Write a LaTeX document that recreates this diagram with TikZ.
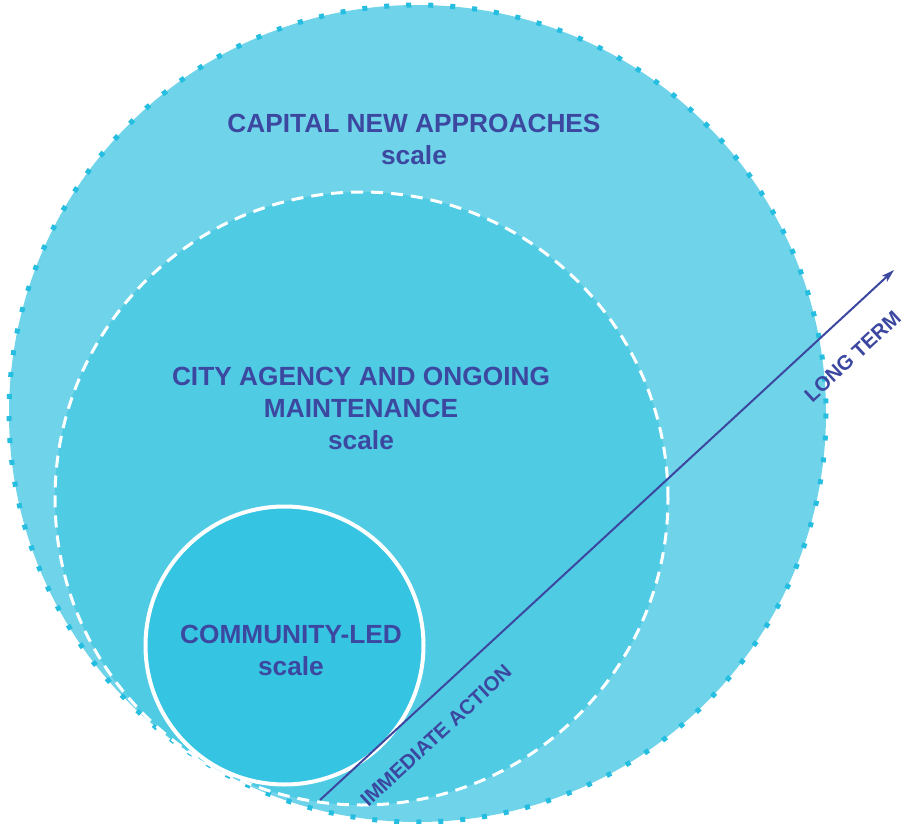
\documentclass[tikz,border=0pt]{standalone}
\usepackage{fontspec}
\setmainfont{Liberation Sans}
\usepackage{tikz}
\usetikzlibrary{arrows.meta}

\definecolor{OuterFill}{RGB}{111,212,234}
\definecolor{OuterDots}{RGB}{38,190,224}
\definecolor{MiddleFill}{RGB}{80,203,228}
\definecolor{InnerFill}{RGB}{54,196,227}
\definecolor{Ink}{RGB}{60,72,160}

\tikzset{
	scale label/.style={text=Ink, font=\bfseries\fontsize{19.7}{24}\selectfont, align=center},
	time label/.style={text=Ink, font=\bfseries\fontsize{15.3}{17}\selectfont},
}

\begin{document}
\begin{tikzpicture}[x=0.75pt, y=-0.75pt]
	\useasboundingbox (0,0) rectangle (904,824);

	\node[circle, minimum size=612.75pt, inner sep=0pt, fill=OuterFill] (capital) at (417.5,413.5) {};
	\draw[OuterDots, line width=3.75pt, dash pattern=on 3.75pt off 12.75pt] (capital.center) circle[radius=408.5];

	\node[draw=white, line width=2.25pt, dash pattern=on 9pt off 6pt, circle, minimum size=459.75pt, inner sep=0pt, fill=MiddleFill] (city) at (361.5,498.5) {};
	\node[draw=white, line width=3pt, circle, minimum size=208.5pt, inner sep=0pt, fill=InnerFill] (community) at (284.5,645.5) {};

	\node[scale label] (capitaltext) at (414,139) {CAPITAL NEW APPROACHES\\scale};
	\node[scale label] (citytext) at (361,408.5) {CITY AGENCY AND ONGOING\\MAINTENANCE\\scale};
	\node[scale label] (communitytext) at (291,650) {COMMUNITY-LED\\scale};

	\coordinate (now) at (320,800);
	\coordinate (later) at (894,270);
	\draw[Ink, line width=1.5pt, -{Stealth[length=10pt, width=6pt, inset=3pt]}] (now) --
		node[pos=0.165, sloped, below, time label, yshift=-14pt] (immediate) {IMMEDIATE ACTION}
		node[pos=0.886, sloped, below, time label, yshift=-17pt] (longterm) {LONG TERM}
		(later);
\end{tikzpicture}
\end{document}
